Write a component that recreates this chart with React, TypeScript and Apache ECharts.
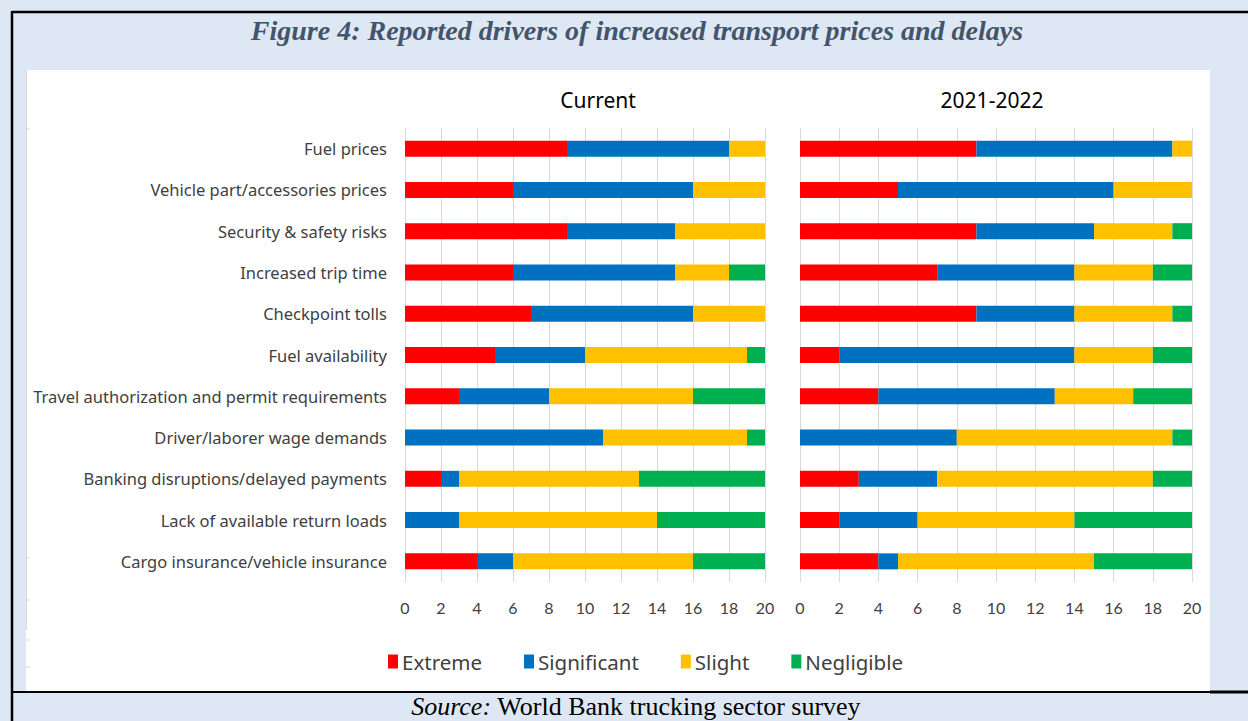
import React, { useEffect, useRef } from "react";
import * as echarts from "echarts";

const categories = [
  "Fuel prices",
  "Vehicle part/accessories prices",
  "Security & safety risks",
  "Increased trip time",
  "Checkpoint tolls",
  "Fuel availability",
  "Travel authorization and permit requirements",
  "Driver/laborer wage demands",
  "Banking disruptions/delayed payments",
  "Lack of available return loads",
  "Cargo insurance/vehicle insurance",
];

const seriesNames = ["Extreme", "Significant", "Slight", "Negligible"];
const seriesColors = ["#ff0000", "#0070c0", "#ffc000", "#00b050"];

const currentExtreme = [9, 6, 9, 6, 7, 5, 3, 0, 2, 0, 4];
const currentSignificant = [9, 10, 6, 9, 9, 5, 5, 11, 1, 3, 2];
const currentSlight = [2, 4, 5, 3, 4, 9, 8, 8, 10, 11, 10];
const currentNegligible = [0, 0, 0, 2, 0, 1, 4, 1, 7, 6, 4];

const pastExtreme = [9, 5, 9, 7, 9, 2, 4, 0, 3, 2, 4];
const pastSignificant = [10, 11, 6, 7, 5, 12, 9, 8, 4, 4, 1];
const pastSlight = [1, 4, 4, 4, 5, 4, 4, 11, 11, 8, 10];
const pastNegligible = [0, 0, 1, 2, 1, 2, 3, 1, 2, 6, 5];

const panelTitles = ["Current", "2021-2022"];
const figureTitle = "Figure 4: Reported drivers of increased transport prices and delays";
const sourceLabel = "Source:";
const sourceText = " World Bank trucking sector survey";

const FONT = "'Noto Sans', Lato, sans-serif";
const NUMFONT = "Lato, 'Noto Sans', sans-serif";
const SERIF = "'Liberation Serif', 'DejaVu Serif', serif";

export default function App() {
  const ref = useRef<HTMLDivElement>(null);

  useEffect(() => {
    if (!ref.current) return;
    const chart = echarts.init(ref.current, undefined, { renderer: "svg" });

    const currentData = [currentExtreme, currentSignificant, currentSlight, currentNegligible];
    const pastData = [pastExtreme, pastSignificant, pastSlight, pastNegligible];

    const series: any[] = [];
    [currentData, pastData].forEach((set, gi) => {
      set.forEach((vals, si) => {
        series.push({
          type: "bar",
          name: seriesNames[si],
          stack: gi === 0 ? "current" : "past",
          xAxisIndex: gi,
          yAxisIndex: gi,
          data: vals,
          barWidth: 16,
          itemStyle: { color: seriesColors[si] },
          emphasis: { disabled: true },
        });
      });
    });

    const xAxisBase = {
      type: "value",
      min: 0,
      max: 20,
      interval: 2,
      axisLine: { show: false },
      axisTick: { show: false },
      splitLine: { show: true, lineStyle: { color: "#d9d9d9", width: 1 } },
      axisLabel: { color: "#404040", fontSize: 16, fontFamily: NUMFONT, margin: 17 },
    };

    const leftTicks = [129, 558, 600, 640, 667];

    const option: any = {
      animation: false,
      backgroundColor: "#dde8f4",
      grid: [
        { left: 405, top: 128, width: 360, height: 454, containLabel: false },
        { left: 800, top: 128, width: 392, height: 454, containLabel: false },
      ],
      xAxis: [
        { ...xAxisBase, gridIndex: 0 },
        { ...xAxisBase, gridIndex: 1 },
      ],
      yAxis: [
        {
          type: "category",
          gridIndex: 0,
          data: categories,
          inverse: true,
          axisLine: { show: false },
          axisTick: { show: false },
          axisLabel: { color: "#404040", fontSize: 16.5, fontFamily: FONT, margin: 18 },
        },
        {
          type: "category",
          gridIndex: 1,
          data: categories,
          inverse: true,
          axisLine: { show: false },
          axisTick: { show: false },
          axisLabel: { show: false },
        },
      ],
      legend: {
        data: seriesNames,
        left: 383,
        top: 646,
        itemWidth: 10,
        itemHeight: 14,
        itemGap: 42,
        icon: "rect",
        textStyle: { color: "#404040", fontSize: 20.5, fontFamily: FONT, padding: [0, 0, 0, -1] },
      },
      graphic: [
        { type: "rect", z: -10, shape: { x: 26, y: 70, width: 1184, height: 621 }, style: { fill: "#ffffff" } },
        { type: "line", z: 10, shape: { x1: 12, y1: 12, x2: 1248, y2: 12 }, style: { stroke: "#000", lineWidth: 2.5 } },
        { type: "line", z: 10, shape: { x1: 12, y1: 11, x2: 12, y2: 721 }, style: { stroke: "#000", lineWidth: 2.5 } },
        { type: "line", z: 10, shape: { x1: 12, y1: 692, x2: 1210, y2: 692 }, style: { stroke: "#000", lineWidth: 2 } },
        { type: "line", z: 10, shape: { x1: 1210, y1: 692, x2: 1248, y2: 692 }, style: { stroke: "#000", lineWidth: 3 } },
        { type: "line", z: 1, shape: { x1: 26.5, y1: 70, x2: 26.5, y2: 630 }, style: { stroke: "#d9d9d9", lineWidth: 1 } },
        ...leftTicks.map((y) => ({
          type: "line",
          z: 1,
          shape: { x1: 26, y1: y, x2: 30, y2: y },
          style: { stroke: "#d9d9d9", lineWidth: 1 },
        })),
        {
          type: "text",
          z: 10,
          x: 637,
          y: 30,
          style: {
            text: figureTitle,
            fill: "#44546a",
            font: `italic bold 28px ${SERIF}`,
            textAlign: "center",
            textVerticalAlign: "middle",
          },
        },
        {
          type: "text",
          z: 10,
          x: 598,
          y: 100,
          style: {
            text: panelTitles[0],
            fill: "#000000",
            font: `21px ${FONT}`,
            textAlign: "center",
            textVerticalAlign: "middle",
          },
        },
        {
          type: "text",
          z: 10,
          x: 992,
          y: 100,
          style: {
            text: panelTitles[1],
            fill: "#000000",
            font: `21px ${FONT}`,
            textAlign: "center",
            textVerticalAlign: "middle",
          },
        },
        {
          type: "text",
          z: 10,
          x: 636,
          y: 706,
          style: {
            text: `{i|${sourceLabel}}{r|${sourceText}}`,
            textAlign: "center",
            textVerticalAlign: "middle",
            rich: {
              i: { fontFamily: SERIF, fontStyle: "italic", fontSize: 26, fill: "#000" },
              r: { fontFamily: SERIF, fontSize: 26, fill: "#000" },
            },
          },
        },
      ],
      series,
    };

    chart.setOption(option);
    return () => chart.dispose();
  }, []);

  return (
    <div
      ref={ref}
      style={{ position: "absolute", left: 0, top: 0, width: 1248, height: 721 }}
    />
  );
}
